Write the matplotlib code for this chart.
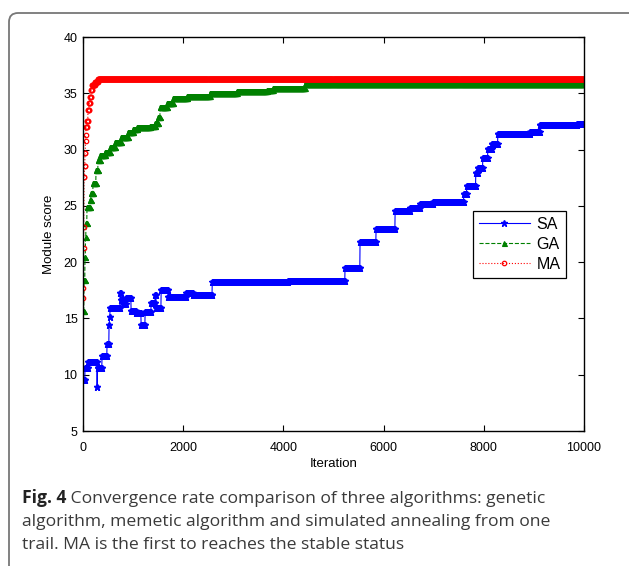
import numpy as np
import matplotlib
matplotlib.use("Agg")
import matplotlib.pyplot as plt
from matplotlib.path import Path
from matplotlib.patches import PathPatch
from matplotlib.transforms import Affine2D

# ---- data: breakpoints (iteration where a new best value starts, value) ----
sa_iter = [0, 40, 100, 280, 290, 380, 480, 520, 530, 540, 740, 760, 800, 860, 960,
           1060, 1160, 1240, 1360, 1440, 1460, 1560, 1700, 2060, 2200, 2580, 4090,
           5230, 5530, 5850, 6230, 6530, 6730, 6990, 7600, 7660, 7840, 7880, 7980,
           8080, 8160, 8280, 8920, 9120, 9860]
sa_val = [9.5, 10.6, 11.1, 8.9, 10.6, 11.7, 12.7, 14.4, 15.1, 15.9, 17.3, 16.6, 16.3, 16.8, 15.7,
          15.5, 14.4, 15.6, 16.4, 17.1, 15.9, 17.5, 16.9, 17.3, 17.1, 18.2, 18.3,
          19.5, 21.8, 22.95, 24.5, 24.8, 25.15, 25.3, 26.05, 26.8, 27.9, 28.4, 29.25,
          30.05, 30.5, 31.4, 31.6, 32.2, 32.3]

ga_iter = [0, 20, 40, 50, 60, 80, 140, 160, 200, 260, 300, 340, 440, 540, 640, 760,
           900, 1000, 1080, 1340, 1440, 1500, 1540, 1680, 1800, 2080, 2530, 3070,
           3670, 3790, 4430]
ga_val = [15.7, 18.4, 20.5, 22.2, 23.5, 24.9, 25.5, 26.1, 27.0, 28.2, 29.1, 29.5, 29.8,
          30.2, 30.7, 31.1, 31.6, 31.8, 32.0, 32.1, 32.4, 32.9, 33.8, 34.1, 34.6, 34.8,
          35.0, 35.2, 35.3, 35.45, 35.8]

ma_iter = [0, 5, 10, 15, 20, 30, 40, 50, 55, 60, 80, 100, 120, 140, 160, 180, 240, 300]
ma_val = [16.8, 17.7, 21.3, 23.1, 27.6, 28.5, 29.7, 30.8, 31.3, 32.0, 32.5, 33.5, 34.1,
          34.7, 35.3, 35.7, 36.0, 36.25]

max_iter = 10000
labels = ["SA", "GA", "MA"]
caption_bold = "Fig. 4"
caption_lines = [" Convergence rate comparison of three algorithms: genetic",
                 "algorithm, memetic algorithm and simulated annealing from one",
                 "trail. MA is the first to reaches the stable status"]

# ---- figure ----
W, H = 629, 566
fig = plt.figure(figsize=(W / 100, H / 100), dpi=100)
fig.patch.set_facecolor("white")

def px_to_fig(x, y):
    return x / W, 1 - y / H

ax = fig.add_axes([83 / W, 1 - 431 / H, (584 - 83) / W, (431 - 37) / H])

iters = np.arange(0, max_iter + 1, 5)

def hold(bp_iter, bp_val):
    idx = np.searchsorted(np.asarray(bp_iter), iters, side="right") - 1
    return np.asarray(bp_val)[idx]

sa = hold(sa_iter, sa_val)
ga = hold(ga_iter, ga_val)
ma = hold(ma_iter, ma_val)

ax.plot(iters, sa, color="#0000ff", linestyle="-", linewidth=0.8, marker="*",
        markersize=4.5, markeredgewidth=1.0, label=labels[0])
ax.plot(iters, ga, color="#008000", linestyle="--", linewidth=0.8, marker="^",
        markersize=3.6, markeredgewidth=0.8, label=labels[1])
ax.plot(iters, ma, color="#ff0000", linestyle=":", linewidth=0.8, marker="o",
        markersize=3.2, markerfacecolor="none", markeredgewidth=0.9, label=labels[2])

ax.set_xlim(0, max_iter)
ax.set_ylim(5, 40)
ax.set_xticks(np.arange(0, max_iter + 1, 2000))
ax.set_yticks(np.arange(5, 41, 5))
ax.tick_params(direction="in", top=True, right=True, length=4, width=0.8,
               labelsize=9)
ax.tick_params(axis="x", pad=8)
ax.tick_params(axis="y", pad=4)
for lab in ax.get_xticklabels() + ax.get_yticklabels():
    lab.set_fontfamily("Liberation Sans")
for s in ax.spines.values():
    s.set_linewidth(1.0)
    s.set_color("black")

ax.set_xlabel("Iteration", fontsize=9.5, fontfamily="Liberation Sans", labelpad=3)
ax.set_ylabel("Module score", fontsize=9.5, fontfamily="Liberation Sans", labelpad=6)

leg = ax.legend(loc="upper right", bbox_to_anchor=(0.964, 0.558), fancybox=False,
                framealpha=1, edgecolor="black", handlelength=3.2, borderpad=0.35,
                labelspacing=0.32, handletextpad=0.4, borderaxespad=0,
                prop={"family": "Liberation Sans", "size": 11.5})
leg.get_frame().set_linewidth(0.9)
for h in leg.legend_handles:
    if hasattr(h, "set_markevery"):
        h.set_markevery([1])

# ---- rounded border (top and left only) ----
verts = [(9, H), (9, 22), (9, 13), (18, 13), (W, 13)]
codes = [Path.MOVETO, Path.LINETO, Path.CURVE3, Path.CURVE3, Path.LINETO]
verts_t = [(x, H - y) for x, y in verts]
tr = Affine2D().scale(1 / W, 1 / H) + fig.transFigure
fig.patches.append(PathPatch(Path(verts_t, codes), transform=tr, fill=False,
                             edgecolor="#777777", linewidth=1.3))

# ---- caption ----
cap_family = "Open Sans"
cap_size = 12.6
cap_color = "#3a3a3a"
base_y = [503, 526, 549]
renderer = fig.canvas.get_renderer()
x0, y0 = px_to_fig(22, base_y[0])
tb = fig.text(x0, y0, caption_bold, fontfamily=cap_family, fontweight="bold",
              fontsize=cap_size, color="#222222", va="baseline", ha="left")
bb = tb.get_window_extent(renderer)
fig.text(bb.x1 / W, y0, caption_lines[0], fontfamily=cap_family, fontsize=cap_size,
         color=cap_color, va="baseline", ha="left")
for line, by in zip(caption_lines[1:], base_y[1:]):
    xx, yy = px_to_fig(22, by)
    fig.text(xx, yy, line, fontfamily=cap_family, fontsize=cap_size,
             color=cap_color, va="baseline", ha="left")

fig.savefig("out.png", dpi=100)
